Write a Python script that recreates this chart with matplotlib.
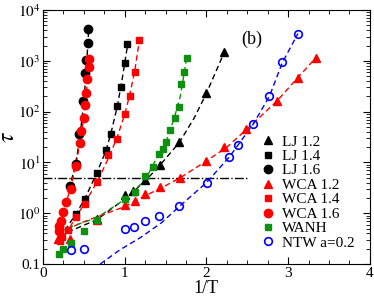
import numpy as np
import matplotlib
matplotlib.use("Agg")
import matplotlib.pyplot as plt
from matplotlib.ticker import MultipleLocator

plt.rcParams['font.family'] = ['Liberation Serif', 'DejaVu Serif']
plt.rcParams['mathtext.fontset'] = 'stix'

# data points (1/T, tau)
lj12_x = [0.66, 1.0, 1.1, 1.25, 1.43, 1.67, 2.0, 2.22]
lj12_y = [0.78, 2.3, 2.8, 4.5, 8.8, 25, 230, 1500]
lj14_x = [0.40, 0.51, 0.66, 0.77, 0.83, 0.91, 0.95, 1.0, 1.03]
lj14_y = [0.95, 1.9, 6.3, 17.4, 37, 128, 310, 890, 2130]
lj16_x = [0.33, 0.40, 0.44, 0.49, 0.51, 0.53, 0.55, 0.555]
lj16_y = [3.4, 9.5, 37, 165, 580, 1030, 2250, 4300]
wca12_x = [0.18, 0.33, 0.66, 1.0, 1.12, 1.25, 1.43, 1.68, 2.0, 2.21, 2.49, 2.86, 3.12, 3.34]
wca12_y = [0.31, 0.31, 0.75, 1.44, 1.72, 2.37, 3.3, 5.0, 10.7, 19.7, 46.5, 160, 470, 1160]
wca14_x = [0.21, 0.23, 0.31, 0.40, 0.51, 0.66, 0.80, 0.91, 1.0, 1.06, 1.12, 1.18]
wca14_y = [0.29, 0.34, 0.46, 0.85, 1.55, 4.1, 13.8, 29.6, 89, 200, 590, 2560]
wca16_x = [0.19, 0.20, 0.22, 0.24, 0.28, 0.34, 0.40, 0.45, 0.47, 0.50, 0.51, 0.53, 0.54, 0.56, 0.56]
wca16_y = [0.45, 0.55, 0.70, 1.05, 1.67, 3.0, 8.7, 24, 42, 75, 134, 233, 430, 740, 1110]
wanh_x = [0.20, 0.25, 0.34, 0.50, 0.66, 1.0, 1.12, 1.25, 1.34, 1.42, 1.47, 1.51, 1.56, 1.61, 1.67, 1.69, 1.72, 1.76]
wanh_y = [0.16, 0.20, 0.26, 0.45, 0.73, 1.95, 2.6, 5.3, 8.1, 14.5, 18.8, 25, 43, 76, 124, 348, 600, 1160]
ntw_x = [0.34, 0.50, 1.0, 1.11, 1.25, 1.42, 1.67, 2.01, 2.28, 2.38, 2.57, 2.77, 2.93, 3.12]
ntw_y = [0.19, 0.20, 0.49, 0.54, 0.69, 0.87, 1.37, 4.0, 12.8, 22, 56, 200, 930, 3450]

# fit curves
fit_lj12_x = [0.20, 0.66, 1.0, 1.25, 1.43, 1.67, 1.85, 2.0, 2.22]
fit_lj12_y = [0.36, 0.75, 1.9, 4.3, 8.8, 25, 75, 230, 1500]
fit_lj14_x = [0.20, 0.30, 0.40, 0.51, 0.66, 0.77, 0.83, 0.91, 0.97, 1.04]
fit_lj14_y = [0.33, 0.55, 0.95, 1.9, 6.3, 17, 37, 128, 450, 2300]
fit_lj16_x = [0.32, 0.40, 0.45, 0.50, 0.53, 0.56]
fit_lj16_y = [3.0, 9.5, 30, 160, 700, 4300]
fit_wca12_x = [0.18, 0.5, 1.0, 1.25, 1.5, 1.68, 2.0, 2.25, 2.5, 2.86, 3.12, 3.34]
fit_wca12_y = [0.40, 0.68, 1.35, 2.2, 3.5, 5.0, 10.7, 20, 46, 160, 470, 1160]
fit_wca14_x = [0.20, 0.31, 0.40, 0.51, 0.66, 0.80, 0.91, 1.0, 1.06, 1.12, 1.18]
fit_wca14_y = [0.28, 0.46, 0.85, 1.55, 4.1, 12, 32, 89, 210, 600, 2560]
fit_wca16_x = [0.18, 0.22, 0.28, 0.34, 0.40, 0.45, 0.50, 0.53, 0.57]
fit_wca16_y = [0.40, 0.7, 1.6, 3.2, 8.5, 24, 80, 230, 1200]
fit_wanh_x = [0.20, 0.66, 1.0, 1.25, 1.40, 1.50, 1.60, 1.68, 1.76]
fit_wanh_y = [0.45, 0.82, 1.86, 4.5, 13, 24, 70, 200, 1200]
fit_ntw_x = [0.70, 0.94, 1.19, 1.45, 1.67, 2.0, 2.28, 2.57, 2.77, 2.93, 3.12]
fit_ntw_y = [0.1, 0.19, 0.33, 0.65, 1.37, 4.0, 12.8, 56, 200, 930, 3450]

fig = plt.figure(figsize=(3.74, 2.96), dpi=100)
ax = fig.add_axes([0.115, 0.108, 0.874, 0.858])
ax.set_yscale('log')

green = '#109010'
ax.axhline(5, xmin=0, xmax=2.5 / 4, color='k', ls='-.', lw=1)

fits = [(fit_lj12_x, fit_lj12_y, 'k'), (fit_lj14_x, fit_lj14_y, 'k'), (fit_lj16_x, fit_lj16_y, 'k'),
        (fit_wca12_x, fit_wca12_y, 'red'), (fit_wca14_x, fit_wca14_y, 'red'),
        (fit_wca16_x, fit_wca16_y, 'red'), (fit_wanh_x, fit_wanh_y, green),
        (fit_ntw_x, fit_ntw_y, 'blue')]
for fx, fy, c in fits:
    ax.plot(fx, fy, ls=(0, (4, 2.5)), color=c, lw=1)

ms = 5.5
ax.plot(lj12_x, lj12_y, '^', color='k', ms=ms, ls='none', label='LJ 1.2')
ax.plot(lj14_x, lj14_y, 's', color='k', ms=ms - 0.5, ls='none', label='LJ 1.4')
ax.plot(lj16_x, lj16_y, 'o', color='k', ms=ms + 0.5, ls='none', label='LJ 1.6')
ax.plot(wca12_x, wca12_y, '^', color='red', ms=ms, ls='none', label='WCA 1.2')
ax.plot(wca14_x, wca14_y, 's', color='red', ms=ms - 0.5, ls='none', label='WCA 1.4')
ax.plot(wca16_x, wca16_y, 'o', color='red', ms=ms + 0.5, ls='none', label='WCA 1.6')
ax.plot(wanh_x, wanh_y, 's', color=green, ms=ms - 0.5, ls='none', label='WANH')
ax.plot(ntw_x, ntw_y, 'o', mfc='none', mec='blue', mew=1.2, ms=ms, ls='none', label='NTW a=0.2')

ax.set_xlim(0, 4)
ax.set_ylim(0.1, 1e4)
ax.xaxis.set_major_locator(MultipleLocator(1))
ax.xaxis.set_minor_locator(MultipleLocator(0.25))
ax.set_yticks([0.1, 1, 10, 100, 1000, 10000])
ax.set_yticklabels(['0.1', r'$10^0$', r'$10^1$', r'$10^2$', r'$10^3$', r'$10^4$'])
ax.tick_params(which='both', direction='in', top=True, right=True, labelsize=11, pad=2)
ax.tick_params(which='major', length=5)
ax.tick_params(which='minor', length=3)

ax.set_xlabel('1/T', fontsize=13, labelpad=0)
ax.set_ylabel(r'$\tau$', fontsize=17)
ax.yaxis.set_label_coords(-0.072, 0.5)
ax.text(2.43, 2200, '(b)', fontsize=13)

ax.legend(loc='lower right', bbox_to_anchor=(0.98, 0.02), frameon=False, fontsize=11,
          handletextpad=0.3, labelspacing=0.05, borderaxespad=0.2, handlelength=1.2)

fig.savefig('out.png', dpi=100)
